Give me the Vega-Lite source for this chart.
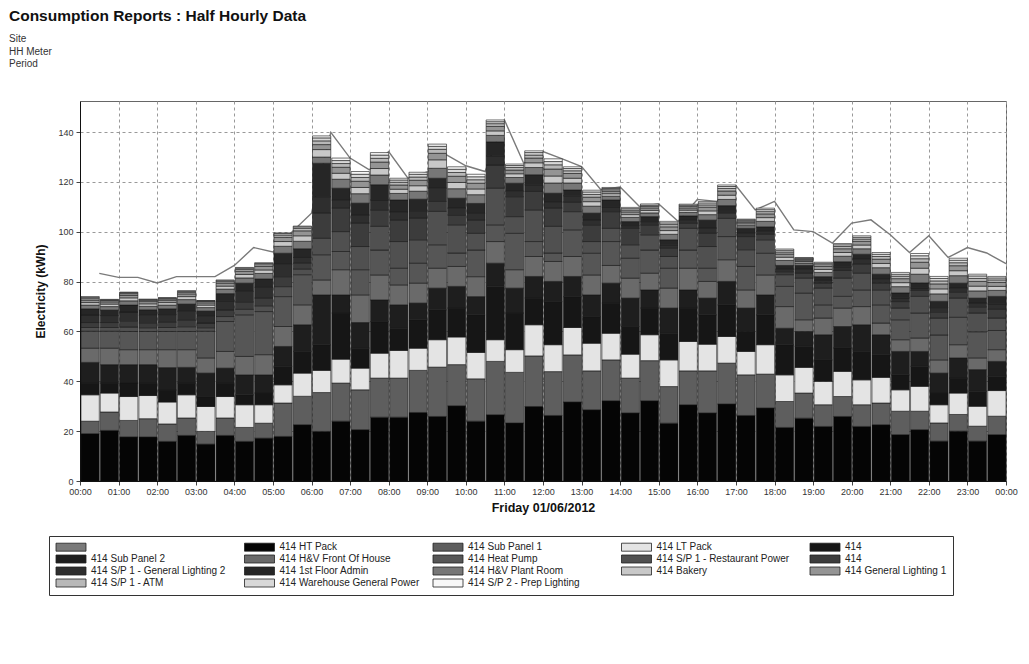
{
  "$schema": "https://vega.github.io/schema/vega-lite/v6.json",
  "padding": {"left": 8, "top": 8, "right": 5, "bottom": 5},
  "width": 926,
  "height": 380,
  "background": "white",
  "config": {
    "font": "Liberation Sans",
    "view": {"stroke": "#666", "strokeWidth": 1}
  },
  "title": {
    "text": "Consumption Reports : Half Hourly Data",
    "subtitle": ["Site", "HH Meter", "Period"],
    "anchor": "start",
    "frame": "bounds",
    "dx": -26,
    "offset": 32,
    "fontSize": 15.5,
    "fontWeight": "bold",
    "color": "#111",
    "subtitleFontSize": 10,
    "subtitleColor": "#333",
    "subtitlePadding": 10,
    "subtitleLineHeight": 12.5
  },
  "layer": [
    {
      "data": {"values": [
      {"t": "2012-06-01 00:30", "v": 83.3}, {"t": "2012-06-01 01:00", "v": 81.7}, {"t": "2012-06-01 01:30", "v": 81.7}, {"t": "2012-06-01 02:00", "v": 79.5},
      {"t": "2012-06-01 02:30", "v": 82}, {"t": "2012-06-01 03:00", "v": 82}, {"t": "2012-06-01 03:30", "v": 82}, {"t": "2012-06-01 04:00", "v": 86.5},
      {"t": "2012-06-01 04:30", "v": 93.7}, {"t": "2012-06-01 05:00", "v": 91.9}, {"t": "2012-06-01 05:30", "v": 100}, {"t": "2012-06-01 06:00", "v": 107.5},
      {"t": "2012-06-01 06:30", "v": 139.9}, {"t": "2012-06-01 07:00", "v": 129.6}, {"t": "2012-06-01 07:30", "v": 124.9}, {"t": "2012-06-01 08:00", "v": 132.2},
      {"t": "2012-06-01 08:30", "v": 121.5}, {"t": "2012-06-01 09:00", "v": 124}, {"t": "2012-06-01 09:30", "v": 130.9}, {"t": "2012-06-01 10:00", "v": 126.5},
      {"t": "2012-06-01 10:30", "v": 124.2}, {"t": "2012-06-01 11:00", "v": 144.9}, {"t": "2012-06-01 11:30", "v": 127.5}, {"t": "2012-06-01 12:00", "v": 132.2},
      {"t": "2012-06-01 12:30", "v": 129.3}, {"t": "2012-06-01 13:00", "v": 126.2}, {"t": "2012-06-01 13:30", "v": 116.9}, {"t": "2012-06-01 14:00", "v": 118},
      {"t": "2012-06-01 14:30", "v": 110.2}, {"t": "2012-06-01 15:00", "v": 111.2}, {"t": "2012-06-01 15:30", "v": 104.2}, {"t": "2012-06-01 16:00", "v": 113},
      {"t": "2012-06-01 16:30", "v": 112.2}, {"t": "2012-06-01 17:00", "v": 118.6}, {"t": "2012-06-01 17:30", "v": 108.8}, {"t": "2012-06-01 18:00", "v": 112.2},
      {"t": "2012-06-01 18:30", "v": 100.8}, {"t": "2012-06-01 19:00", "v": 100.1}, {"t": "2012-06-01 19:30", "v": 95.5}, {"t": "2012-06-01 20:00", "v": 103.5},
      {"t": "2012-06-01 20:30", "v": 104.8}, {"t": "2012-06-01 21:00", "v": 98.8}, {"t": "2012-06-01 21:30", "v": 91.7}, {"t": "2012-06-01 22:00", "v": 98.4},
      {"t": "2012-06-01 22:30", "v": 89.7}, {"t": "2012-06-01 23:00", "v": 93.7}, {"t": "2012-06-01 23:30", "v": 91.5}, {"t": "2012-06-02 00:00", "v": 87.2}
      ]},
      "mark": {"type": "line", "color": "#7a7a7a", "strokeWidth": 1.4},
      "encoding": {
        "x": {"field": "t", "type": "temporal"},
        "y": {"field": "v", "type": "quantitative"}
      }
    },
    {
      "data": {"values": [
      {"t":"2012-06-01 00:00","01 414 HT Pack":19,"02 414 Sub Panel 1":5,"03 414 LT Pack":10.6,"04 414":4.7,"05 414 Sub Panel 2":8.3,"06 414 H&V Front Of House":5.7,"07 414 Heat Pump":6.8,"08 414 S/P 1 - Restaurant Power":1.5,"09 414":2,"10 414 S/P 1 - General Lighting 2":3,"11 414 1st Floor Admin":2.5,"12 414 H&V Plant Room":1.5,"13 414 Bakery":1,"14 414 General Lighting 1":1,"15 414 S/P 1 - ATM":0.6,"16 414 Warehouse General Power":0.5,"17 414 S/P 2 - Prep Lighting":0.3},
      {"t":"2012-06-01 00:30","01 414 HT Pack":20.3,"02 414 Sub Panel 1":7.4,"03 414 LT Pack":7.6,"04 414":4,"05 414 Sub Panel 2":7.4,"06 414 H&V Front Of House":6.6,"07 414 Heat Pump":6.8,"08 414 S/P 1 - Restaurant Power":1.5,"09 414":2,"10 414 S/P 1 - General Lighting 2":2.8,"11 414 1st Floor Admin":2.2,"12 414 H&V Plant Room":1.4,"13 414 Bakery":1,"14 414 General Lighting 1":0.9,"15 414 S/P 1 - ATM":0.5,"16 414 Warehouse General Power":0.3,"17 414 S/P 2 - Prep Lighting":0.2},
      {"t":"2012-06-01 01:00","01 414 HT Pack":17.7,"02 414 Sub Panel 1":6.6,"03 414 LT Pack":9.6,"04 414":5.4,"05 414 Sub Panel 2":7.4,"06 414 H&V Front Of House":6,"07 414 Heat Pump":7.3,"08 414 S/P 1 - Restaurant Power":1.8,"09 414":2.5,"10 414 S/P 1 - General Lighting 2":3.5,"11 414 1st Floor Admin":2.8,"12 414 H&V Plant Room":1.7,"13 414 Bakery":1.2,"14 414 General Lighting 1":1.1,"15 414 S/P 1 - ATM":0.6,"16 414 Warehouse General Power":0.4,"17 414 S/P 2 - Prep Lighting":0.2},
      {"t":"2012-06-01 01:30","01 414 HT Pack":17.7,"02 414 Sub Panel 1":7.3,"03 414 LT Pack":9.3,"04 414":5,"05 414 Sub Panel 2":7.4,"06 414 H&V Front Of House":6,"07 414 Heat Pump":7.3,"08 414 S/P 1 - Restaurant Power":1.5,"09 414":2,"10 414 S/P 1 - General Lighting 2":3,"11 414 1st Floor Admin":2.2,"12 414 H&V Plant Room":1.4,"13 414 Bakery":1,"14 414 General Lighting 1":0.9,"15 414 S/P 1 - ATM":0.5,"16 414 Warehouse General Power":0.3,"17 414 S/P 2 - Prep Lighting":0.2},
      {"t":"2012-06-01 02:00","01 414 HT Pack":15.9,"02 414 Sub Panel 1":7,"03 414 LT Pack":8.8,"04 414":4.8,"05 414 Sub Panel 2":9,"06 414 H&V Front Of House":7.2,"07 414 Heat Pump":7.3,"08 414 S/P 1 - Restaurant Power":1.6,"09 414":2.1,"10 414 S/P 1 - General Lighting 2":3.1,"11 414 1st Floor Admin":2.3,"12 414 H&V Plant Room":1.5,"13 414 Bakery":1,"14 414 General Lighting 1":1,"15 414 S/P 1 - ATM":0.5,"16 414 Warehouse General Power":0.3,"17 414 S/P 2 - Prep Lighting":0.2},
      {"t":"2012-06-01 02:30","01 414 HT Pack":18.3,"02 414 Sub Panel 1":7,"03 414 LT Pack":9.3,"04 414":4.7,"05 414 Sub Panel 2":6.3,"06 414 H&V Front Of House":7.1,"07 414 Heat Pump":7.3,"08 414 S/P 1 - Restaurant Power":1.9,"09 414":2.6,"10 414 S/P 1 - General Lighting 2":3.6,"11 414 1st Floor Admin":2.9,"12 414 H&V Plant Room":1.8,"13 414 Bakery":1.2,"14 414 General Lighting 1":1.1,"15 414 S/P 1 - ATM":0.6,"16 414 Warehouse General Power":0.4,"17 414 S/P 2 - Prep Lighting":0.3},
      {"t":"2012-06-01 03:00","01 414 HT Pack":14.8,"02 414 Sub Panel 1":5.1,"03 414 LT Pack":10,"04 414":4,"05 414 Sub Panel 2":9.4,"06 414 H&V Front Of House":6.1,"07 414 Heat Pump":10.7,"08 414 S/P 1 - Restaurant Power":1.4,"09 414":1.9,"10 414 S/P 1 - General Lighting 2":2.7,"11 414 1st Floor Admin":2.1,"12 414 H&V Plant Room":1.4,"13 414 Bakery":1,"14 414 General Lighting 1":0.9,"15 414 S/P 1 - ATM":0.5,"16 414 Warehouse General Power":0.3,"17 414 S/P 2 - Prep Lighting":0.1},
      {"t":"2012-06-01 03:30","01 414 HT Pack":18.3,"02 414 Sub Panel 1":7,"03 414 LT Pack":8.6,"04 414":5.4,"05 414 Sub Panel 2":6,"06 414 H&V Front Of House":6.7,"07 414 Heat Pump":12,"08 414 S/P 1 - Restaurant Power":2,"09 414":2.6,"10 414 S/P 1 - General Lighting 2":3.7,"11 414 1st Floor Admin":2.9,"12 414 H&V Plant Room":1.8,"13 414 Bakery":1.2,"14 414 General Lighting 1":1.2,"15 414 S/P 1 - ATM":0.6,"16 414 Warehouse General Power":0.4,"17 414 S/P 2 - Prep Lighting":0.3},
      {"t":"2012-06-01 04:00","01 414 HT Pack":15.9,"02 414 Sub Panel 1":5.6,"03 414 LT Pack":9.1,"04 414":4,"05 414 Sub Panel 2":8,"06 414 H&V Front Of House":7.4,"07 414 Heat Pump":16.7,"08 414 S/P 1 - Restaurant Power":2.2,"09 414":3,"10 414 S/P 1 - General Lighting 2":4.2,"11 414 1st Floor Admin":3.3,"12 414 H&V Plant Room":2.1,"13 414 Bakery":1.4,"14 414 General Lighting 1":1.3,"15 414 S/P 1 - ATM":0.7,"16 414 Warehouse General Power":0.5,"17 414 S/P 2 - Prep Lighting":0.3},
      {"t":"2012-06-01 04:30","01 414 HT Pack":17.2,"02 414 Sub Panel 1":6,"03 414 LT Pack":7.4,"04 414":4.7,"05 414 Sub Panel 2":7.3,"06 414 H&V Front Of House":8.1,"07 414 Heat Pump":17.3,"08 414 S/P 1 - Restaurant Power":2.3,"09 414":3.1,"10 414 S/P 1 - General Lighting 2":4.3,"11 414 1st Floor Admin":3.4,"12 414 H&V Plant Room":2.2,"13 414 Bakery":1.4,"14 414 General Lighting 1":1.4,"15 414 S/P 1 - ATM":0.7,"16 414 Warehouse General Power":0.5,"17 414 S/P 2 - Prep Lighting":0.3},
      {"t":"2012-06-01 05:00","01 414 HT Pack":17.9,"02 414 Sub Panel 1":13.4,"03 414 LT Pack":7.3,"04 414":7.4,"05 414 Sub Panel 2":8,"06 414 H&V Front Of House":8,"07 414 Heat Pump":12,"08 414 S/P 1 - Restaurant Power":4,"09 414":4,"10 414 S/P 1 - General Lighting 2":5,"11 414 1st Floor Admin":4.4,"12 414 H&V Plant Room":2.8,"13 414 Bakery":1.9,"14 414 General Lighting 1":1.7,"15 414 S/P 1 - ATM":0.9,"16 414 Warehouse General Power":0.6,"17 414 S/P 2 - Prep Lighting":0.3},
      {"t":"2012-06-01 05:30","01 414 HT Pack":22.6,"02 414 Sub Panel 1":11.4,"03 414 LT Pack":9.3,"04 414":8.7,"05 414 Sub Panel 2":10.7,"06 414 H&V Front Of House":8,"07 414 Heat Pump":12.1,"08 414 S/P 1 - Restaurant Power":2.3,"09 414":2.3,"10 414 S/P 1 - General Lighting 2":2.3,"11 414 1st Floor Admin":3.5,"12 414 H&V Plant Room":3,"13 414 Bakery":2.2,"14 414 General Lighting 1":2,"15 414 S/P 1 - ATM":1,"16 414 Warehouse General Power":0.6,"17 414 S/P 2 - Prep Lighting":0.3},
      {"t":"2012-06-01 06:00","01 414 HT Pack":19.9,"02 414 Sub Panel 1":15.6,"03 414 LT Pack":8.9,"04 414":10.3,"05 414 Sub Panel 2":20,"06 414 H&V Front Of House":6,"07 414 Heat Pump":10.1,"08 414 S/P 1 - Restaurant Power":6.6,"09 414":10.1,"10 414 S/P 1 - General Lighting 2":6.6,"11 414 1st Floor Admin":13.4,"12 414 H&V Plant Room":2.5,"13 414 Bakery":3,"14 414 General Lighting 1":2,"15 414 S/P 1 - ATM":1.5,"16 414 Warehouse General Power":1.2,"17 414 S/P 2 - Prep Lighting":0.8},
      {"t":"2012-06-01 06:30","01 414 HT Pack":24,"02 414 Sub Panel 1":15.3,"03 414 LT Pack":9.6,"04 414":18.5,"05 414 Sub Panel 2":7.3,"06 414 H&V Front Of House":10.1,"07 414 Heat Pump":7.3,"08 414 S/P 1 - Restaurant Power":8,"09 414":9.4,"10 414 S/P 1 - General Lighting 2":3.2,"11 414 1st Floor Admin":4.8,"12 414 H&V Plant Room":3.6,"13 414 Bakery":2.4,"14 414 General Lighting 1":2.4,"15 414 S/P 1 - ATM":1.5,"16 414 Warehouse General Power":1.2,"17 414 S/P 2 - Prep Lighting":1},
      {"t":"2012-06-01 07:00","01 414 HT Pack":20.6,"02 414 Sub Panel 1":16,"03 414 LT Pack":8.7,"04 414":8,"05 414 Sub Panel 2":10.3,"06 414 H&V Front Of House":11.1,"07 414 Heat Pump":10.1,"08 414 S/P 1 - Restaurant Power":9.3,"09 414":9.4,"10 414 S/P 1 - General Lighting 2":3.2,"11 414 1st Floor Admin":4.8,"12 414 H&V Plant Room":3.8,"13 414 Bakery":2.5,"14 414 General Lighting 1":2.5,"15 414 S/P 1 - ATM":1.5,"16 414 Warehouse General Power":1.3,"17 414 S/P 2 - Prep Lighting":1.1},
      {"t":"2012-06-01 07:30","01 414 HT Pack":25.6,"02 414 Sub Panel 1":15.7,"03 414 LT Pack":10,"04 414":12.7,"05 414 Sub Panel 2":8.7,"06 414 H&V Front Of House":10,"07 414 Heat Pump":10,"08 414 S/P 1 - Restaurant Power":9.5,"09 414":6.6,"10 414 S/P 1 - General Lighting 2":4,"11 414 1st Floor Admin":6.1,"12 414 H&V Plant Room":3.9,"13 414 Bakery":2.6,"14 414 General Lighting 1":2.6,"15 414 S/P 1 - ATM":1.5,"16 414 Warehouse General Power":1.3,"17 414 S/P 2 - Prep Lighting":1},
      {"t":"2012-06-01 08:00","01 414 HT Pack":25.6,"02 414 Sub Panel 1":15.7,"03 414 LT Pack":11.1,"04 414":8.9,"05 414 Sub Panel 2":9.4,"06 414 H&V Front Of House":8,"07 414 Heat Pump":6.7,"08 414 S/P 1 - Restaurant Power":10.7,"09 414":8.6,"10 414 S/P 1 - General Lighting 2":3.2,"11 414 1st Floor Admin":4.9,"12 414 H&V Plant Room":2.6,"13 414 Bakery":1.7,"14 414 General Lighting 1":1.7,"15 414 S/P 1 - ATM":1.1,"16 414 Warehouse General Power":0.9,"17 414 S/P 2 - Prep Lighting":0.7},
      {"t":"2012-06-01 08:30","01 414 HT Pack":27.5,"02 414 Sub Panel 1":16.9,"03 414 LT Pack":8.9,"04 414":11.4,"05 414 Sub Panel 2":6.7,"06 414 H&V Front Of House":8,"07 414 Heat Pump":8,"08 414 S/P 1 - Restaurant Power":9.4,"09 414":8.7,"10 414 S/P 1 - General Lighting 2":3,"11 414 1st Floor Admin":4.6,"12 414 H&V Plant Room":3.2,"13 414 Bakery":2.2,"14 414 General Lighting 1":2.2,"15 414 S/P 1 - ATM":1.3,"16 414 Warehouse General Power":1.1,"17 414 S/P 2 - Prep Lighting":0.8},
      {"t":"2012-06-01 09:00","01 414 HT Pack":25.9,"02 414 Sub Panel 1":19.8,"03 414 LT Pack":11,"04 414":12,"05 414 Sub Panel 2":8.7,"06 414 H&V Front Of House":8,"07 414 Heat Pump":9.4,"08 414 S/P 1 - Restaurant Power":13.4,"09 414":4,"10 414 S/P 1 - General Lighting 2":5.3,"11 414 1st Floor Admin":4,"12 414 H&V Plant Room":4,"13 414 Bakery":3.4,"14 414 General Lighting 1":2.6,"15 414 S/P 1 - ATM":1.6,"16 414 Warehouse General Power":1.2,"17 414 S/P 2 - Prep Lighting":0.9},
      {"t":"2012-06-01 09:30","01 414 HT Pack":30.2,"02 414 Sub Panel 1":16.5,"03 414 LT Pack":11.1,"04 414":11.6,"05 414 Sub Panel 2":8.7,"06 414 H&V Front Of House":8,"07 414 Heat Pump":5.4,"08 414 S/P 1 - Restaurant Power":11.3,"09 414":4,"10 414 S/P 1 - General Lighting 2":2.7,"11 414 1st Floor Admin":4,"12 414 H&V Plant Room":3.8,"13 414 Bakery":2.5,"14 414 General Lighting 1":2.5,"15 414 S/P 1 - ATM":1.5,"16 414 Warehouse General Power":1.3,"17 414 S/P 2 - Prep Lighting":1},
      {"t":"2012-06-01 10:00","01 414 HT Pack":24,"02 414 Sub Panel 1":17,"03 414 LT Pack":10.6,"04 414":15.1,"05 414 Sub Panel 2":7.3,"06 414 H&V Front Of House":8,"07 414 Heat Pump":10.7,"08 414 S/P 1 - Restaurant Power":6.7,"09 414":5.3,"10 414 S/P 1 - General Lighting 2":2.7,"11 414 1st Floor Admin":4,"12 414 H&V Plant Room":3.5,"13 414 Bakery":2.3,"14 414 General Lighting 1":2.3,"15 414 S/P 1 - ATM":1.4,"16 414 Warehouse General Power":1.2,"17 414 S/P 2 - Prep Lighting":1},
      {"t":"2012-06-01 10:30","01 414 HT Pack":26.6,"02 414 Sub Panel 1":21.4,"03 414 LT Pack":8.7,"04 414":21.4,"05 414 Sub Panel 2":9.3,"06 414 H&V Front Of House":8.7,"07 414 Heat Pump":6.7,"08 414 S/P 1 - Restaurant Power":14.7,"09 414":9.3,"10 414 S/P 1 - General Lighting 2":3.7,"11 414 1st Floor Admin":5.6,"12 414 H&V Plant Room":2.6,"13 414 Bakery":1.8,"14 414 General Lighting 1":1.8,"15 414 S/P 1 - ATM":1.1,"16 414 Warehouse General Power":0.8,"17 414 S/P 2 - Prep Lighting":0.7},
      {"t":"2012-06-01 11:00","01 414 HT Pack":23.3,"02 414 Sub Panel 1":20.3,"03 414 LT Pack":9.1,"04 414":14.7,"05 414 Sub Panel 2":10,"06 414 H&V Front Of House":7.4,"07 414 Heat Pump":14.6,"08 414 S/P 1 - Restaurant Power":6.7,"09 414":8,"10 414 S/P 1 - General Lighting 2":2.2,"11 414 1st Floor Admin":3.2,"12 414 H&V Plant Room":2.3,"13 414 Bakery":1.5,"14 414 General Lighting 1":1.5,"15 414 S/P 1 - ATM":1,"16 414 Warehouse General Power":0.8,"17 414 S/P 2 - Prep Lighting":0.6},
      {"t":"2012-06-01 11:30","01 414 HT Pack":29.9,"02 414 Sub Panel 1":20.3,"03 414 LT Pack":12.5,"04 414":10.7,"05 414 Sub Panel 2":8.7,"06 414 H&V Front Of House":8,"07 414 Heat Pump":6,"08 414 S/P 1 - Restaurant Power":12.7,"09 414":7.4,"10 414 S/P 1 - General Lighting 2":2.7,"11 414 1st Floor Admin":4,"12 414 H&V Plant Room":2.9,"13 414 Bakery":1.9,"14 414 General Lighting 1":1.9,"15 414 S/P 1 - ATM":1.2,"16 414 Warehouse General Power":1,"17 414 S/P 2 - Prep Lighting":0.7},
      {"t":"2012-06-01 12:00","01 414 HT Pack":26.3,"02 414 Sub Panel 1":17.6,"03 414 LT Pack":10.8,"04 414":17.3,"05 414 Sub Panel 2":8.1,"06 414 H&V Front Of House":8,"07 414 Heat Pump":3.4,"08 414 S/P 1 - Restaurant Power":10.7,"09 414":7.3,"10 414 S/P 1 - General Lighting 2":2.4,"11 414 1st Floor Admin":3.6,"12 414 H&V Plant Room":4.1,"13 414 Bakery":2.8,"14 414 General Lighting 1":2.8,"15 414 S/P 1 - ATM":1.7,"16 414 Warehouse General Power":1.3,"17 414 S/P 2 - Prep Lighting":1.1},
      {"t":"2012-06-01 12:30","01 414 HT Pack":31.7,"02 414 Sub Panel 1":18.9,"03 414 LT Pack":11,"04 414":12.4,"05 414 Sub Panel 2":8.1,"06 414 H&V Front Of House":8,"07 414 Heat Pump":10.7,"08 414 S/P 1 - Restaurant Power":7.3,"09 414":3.9,"10 414 S/P 1 - General Lighting 2":2.5,"11 414 1st Floor Admin":2.3,"12 414 H&V Plant Room":2.8,"13 414 Bakery":1.9,"14 414 General Lighting 1":1.9,"15 414 S/P 1 - ATM":1.1,"16 414 Warehouse General Power":0.9,"17 414 S/P 2 - Prep Lighting":0.7},
      {"t":"2012-06-01 13:00","01 414 HT Pack":28.6,"02 414 Sub Panel 1":15.6,"03 414 LT Pack":11.1,"04 414":10.7,"05 414 Sub Panel 2":8.7,"06 414 H&V Front Of House":8,"07 414 Heat Pump":8.7,"08 414 S/P 1 - Restaurant Power":4.7,"09 414":6.7,"10 414 S/P 1 - General Lighting 2":1.9,"11 414 1st Floor Admin":2.8,"12 414 H&V Plant Room":2.8,"13 414 Bakery":1.8,"14 414 General Lighting 1":1.8,"15 414 S/P 1 - ATM":1.1,"16 414 Warehouse General Power":1,"17 414 S/P 2 - Prep Lighting":0.7},
      {"t":"2012-06-01 13:30","01 414 HT Pack":32.2,"02 414 Sub Panel 1":16.4,"03 414 LT Pack":10.7,"04 414":12.1,"05 414 Sub Panel 2":8,"06 414 H&V Front Of House":7.1,"07 414 Heat Pump":9.6,"08 414 S/P 1 - Restaurant Power":5.3,"09 414":6.7,"10 414 S/P 1 - General Lighting 2":1.9,"11 414 1st Floor Admin":2.8,"12 414 H&V Plant Room":1.5,"13 414 Bakery":1,"14 414 General Lighting 1":1,"15 414 S/P 1 - ATM":0.6,"16 414 Warehouse General Power":0.5,"17 414 S/P 2 - Prep Lighting":0.4},
      {"t":"2012-06-01 14:00","01 414 HT Pack":27.3,"02 414 Sub Panel 1":14,"03 414 LT Pack":9.6,"04 414":11.1,"05 414 Sub Panel 2":11.4,"06 414 H&V Front Of House":8,"07 414 Heat Pump":8,"08 414 S/P 1 - Restaurant Power":5.4,"09 414":6.6,"10 414 S/P 1 - General Lighting 2":1.1,"11 414 1st Floor Admin":1.6,"12 414 H&V Plant Room":1.7,"13 414 Bakery":1.1,"14 414 General Lighting 1":1.1,"15 414 S/P 1 - ATM":0.7,"16 414 Warehouse General Power":0.6,"17 414 S/P 2 - Prep Lighting":0.5},
      {"t":"2012-06-01 14:30","01 414 HT Pack":32.2,"02 414 Sub Panel 1":16.1,"03 414 LT Pack":10.4,"04 414":10.7,"05 414 Sub Panel 2":7.3,"06 414 H&V Front Of House":6.7,"07 414 Heat Pump":9.3,"08 414 S/P 1 - Restaurant Power":6.1,"09 414":4,"10 414 S/P 1 - General Lighting 2":1.3,"11 414 1st Floor Admin":2,"12 414 H&V Plant Room":1.5,"13 414 Bakery":1,"14 414 General Lighting 1":1,"15 414 S/P 1 - ATM":0.6,"16 414 Warehouse General Power":0.5,"17 414 S/P 2 - Prep Lighting":0.5},
      {"t":"2012-06-01 15:00","01 414 HT Pack":23.2,"02 414 Sub Panel 1":14.7,"03 414 LT Pack":10.7,"04 414":10.7,"05 414 Sub Panel 2":10.1,"06 414 H&V Front Of House":8,"07 414 Heat Pump":8,"08 414 S/P 1 - Restaurant Power":4.7,"09 414":3.3,"10 414 S/P 1 - General Lighting 2":1.4,"11 414 1st Floor Admin":2,"12 414 H&V Plant Room":2.2,"13 414 Bakery":1.5,"14 414 General Lighting 1":1.5,"15 414 S/P 1 - ATM":0.9,"16 414 Warehouse General Power":0.7,"17 414 S/P 2 - Prep Lighting":0.6},
      {"t":"2012-06-01 15:30","01 414 HT Pack":30.6,"02 414 Sub Panel 1":13.6,"03 414 LT Pack":11.8,"04 414":13.4,"05 414 Sub Panel 2":7.3,"06 414 H&V Front Of House":8.7,"07 414 Heat Pump":7.3,"08 414 S/P 1 - Restaurant Power":8.7,"09 414":2,"10 414 S/P 1 - General Lighting 2":1.2,"11 414 1st Floor Admin":1.8,"12 414 H&V Plant Room":1.4,"13 414 Bakery":0.9,"14 414 General Lighting 1":0.9,"15 414 S/P 1 - ATM":0.6,"16 414 Warehouse General Power":0.5,"17 414 S/P 2 - Prep Lighting":0.4},
      {"t":"2012-06-01 16:00","01 414 HT Pack":27.3,"02 414 Sub Panel 1":16.9,"03 414 LT Pack":10.7,"04 414":11.8,"05 414 Sub Panel 2":6.7,"06 414 H&V Front Of House":6.7,"07 414 Heat Pump":5.3,"08 414 S/P 1 - Restaurant Power":8.7,"09 414":5.3,"10 414 S/P 1 - General Lighting 2":2.1,"11 414 1st Floor Admin":3.2,"12 414 H&V Plant Room":2.2,"13 414 Bakery":1.5,"14 414 General Lighting 1":1.5,"15 414 S/P 1 - ATM":0.9,"16 414 Warehouse General Power":0.8,"17 414 S/P 2 - Prep Lighting":0.6},
      {"t":"2012-06-01 16:30","01 414 HT Pack":30.9,"02 414 Sub Panel 1":16.4,"03 414 LT Pack":10.7,"04 414":12.7,"05 414 Sub Panel 2":9.4,"06 414 H&V Front Of House":8.7,"07 414 Heat Pump":9.3,"08 414 S/P 1 - Restaurant Power":7.3,"09 414":2.1,"10 414 S/P 1 - General Lighting 2":1,"11 414 1st Floor Admin":2,"12 414 H&V Plant Room":2.5,"13 414 Bakery":1.7,"14 414 General Lighting 1":1.7,"15 414 S/P 1 - ATM":1,"16 414 Warehouse General Power":0.8,"17 414 S/P 2 - Prep Lighting":0.6},
      {"t":"2012-06-01 17:00","01 414 HT Pack":26.3,"02 414 Sub Panel 1":16.3,"03 414 LT Pack":9.4,"04 414":8,"05 414 Sub Panel 2":9.4,"06 414 H&V Front Of House":7.3,"07 414 Heat Pump":9.4,"08 414 S/P 1 - Restaurant Power":6.7,"09 414":5.3,"10 414 S/P 1 - General Lighting 2":1.3,"11 414 1st Floor Admin":2,"12 414 H&V Plant Room":1.1,"13 414 Bakery":0.7,"14 414 General Lighting 1":0.7,"15 414 S/P 1 - ATM":0.5,"16 414 Warehouse General Power":0.4,"17 414 S/P 2 - Prep Lighting":0.3},
      {"t":"2012-06-01 17:30","01 414 HT Pack":29.3,"02 414 Sub Panel 1":13.6,"03 414 LT Pack":11.8,"04 414":12,"05 414 Sub Panel 2":8,"06 414 H&V Front Of House":8,"07 414 Heat Pump":8.7,"08 414 S/P 1 - Restaurant Power":5.4,"09 414":2.2,"10 414 S/P 1 - General Lighting 2":1.2,"11 414 1st Floor Admin":1.8,"12 414 H&V Plant Room":2.2,"13 414 Bakery":1.5,"14 414 General Lighting 1":1.5,"15 414 S/P 1 - ATM":0.9,"16 414 Warehouse General Power":0.8,"17 414 S/P 2 - Prep Lighting":0.6},
      {"t":"2012-06-01 18:00","01 414 HT Pack":21.5,"02 414 Sub Panel 1":10.4,"03 414 LT Pack":10.7,"04 414":12.1,"05 414 Sub Panel 2":6.6,"06 414 H&V Front Of House":8.7,"07 414 Heat Pump":8.1,"08 414 S/P 1 - Restaurant Power":4.7,"09 414":1.2,"10 414 S/P 1 - General Lighting 2":1,"11 414 1st Floor Admin":1.5,"12 414 H&V Plant Room":2,"13 414 Bakery":1.3,"14 414 General Lighting 1":1.3,"15 414 S/P 1 - ATM":0.8,"16 414 Warehouse General Power":0.7,"17 414 S/P 2 - Prep Lighting":0.5},
      {"t":"2012-06-01 18:30","01 414 HT Pack":25.2,"02 414 Sub Panel 1":10.1,"03 414 LT Pack":10.3,"04 414":8.4,"05 414 Sub Panel 2":6,"06 414 H&V Front Of House":4.7,"07 414 Heat Pump":10.7,"08 414 S/P 1 - Restaurant Power":6,"09 414":2.1,"10 414 S/P 1 - General Lighting 2":1.5,"11 414 1st Floor Admin":1.5,"12 414 H&V Plant Room":1,"13 414 Bakery":0.6,"14 414 General Lighting 1":0.6,"15 414 S/P 1 - ATM":0.4,"16 414 Warehouse General Power":0.3,"17 414 S/P 2 - Prep Lighting":0.3},
      {"t":"2012-06-01 19:00","01 414 HT Pack":21.9,"02 414 Sub Panel 1":8.7,"03 414 LT Pack":9.4,"04 414":8.6,"05 414 Sub Panel 2":10.1,"06 414 H&V Front Of House":6.7,"07 414 Heat Pump":5.3,"08 414 S/P 1 - Restaurant Power":6.7,"09 414":2.1,"10 414 S/P 1 - General Lighting 2":1,"11 414 1st Floor Admin":1.5,"12 414 H&V Plant Room":1.7,"13 414 Bakery":1.2,"14 414 General Lighting 1":1.2,"15 414 S/P 1 - ATM":0.7,"16 414 Warehouse General Power":0.6,"17 414 S/P 2 - Prep Lighting":0.4},
      {"t":"2012-06-01 19:30","01 414 HT Pack":25.9,"02 414 Sub Panel 1":8,"03 414 LT Pack":10.1,"04 414":9.4,"05 414 Sub Panel 2":8.6,"06 414 H&V Front Of House":7.4,"07 414 Heat Pump":4.7,"08 414 S/P 1 - Restaurant Power":7.3,"09 414":3.1,"10 414 S/P 1 - General Lighting 2":1.5,"11 414 1st Floor Admin":2,"12 414 H&V Plant Room":2.2,"13 414 Bakery":1.5,"14 414 General Lighting 1":1.5,"15 414 S/P 1 - ATM":0.9,"16 414 Warehouse General Power":0.7,"17 414 S/P 2 - Prep Lighting":0.5},
      {"t":"2012-06-01 20:00","01 414 HT Pack":21.9,"02 414 Sub Panel 1":8.7,"03 414 LT Pack":10,"04 414":11.4,"05 414 Sub Panel 2":10.7,"06 414 H&V Front Of House":7.3,"07 414 Heat Pump":6.7,"08 414 S/P 1 - Restaurant Power":6.7,"09 414":3.6,"10 414 S/P 1 - General Lighting 2":2,"11 414 1st Floor Admin":2,"12 414 H&V Plant Room":2.2,"13 414 Bakery":1.5,"14 414 General Lighting 1":1.5,"15 414 S/P 1 - ATM":0.9,"16 414 Warehouse General Power":0.7,"17 414 S/P 2 - Prep Lighting":0.6},
      {"t":"2012-06-01 20:30","01 414 HT Pack":22.6,"02 414 Sub Panel 1":8.7,"03 414 LT Pack":10.3,"04 414":9.1,"05 414 Sub Panel 2":8,"06 414 H&V Front Of House":4.7,"07 414 Heat Pump":7.3,"08 414 S/P 1 - Restaurant Power":6,"09 414":2.8,"10 414 S/P 1 - General Lighting 2":1.5,"11 414 1st Floor Admin":2,"12 414 H&V Plant Room":2.6,"13 414 Bakery":1.7,"14 414 General Lighting 1":1.7,"15 414 S/P 1 - ATM":1.1,"16 414 Warehouse General Power":0.9,"17 414 S/P 2 - Prep Lighting":0.7},
      {"t":"2012-06-01 21:00","01 414 HT Pack":18.6,"02 414 Sub Panel 1":9.4,"03 414 LT Pack":8.6,"04 414":6,"05 414 Sub Panel 2":9.4,"06 414 H&V Front Of House":4.7,"07 414 Heat Pump":8,"08 414 S/P 1 - Restaurant Power":4.7,"09 414":2.6,"10 414 S/P 1 - General Lighting 2":1.5,"11 414 1st Floor Admin":2,"12 414 H&V Plant Room":2.5,"13 414 Bakery":1.6,"14 414 General Lighting 1":1.6,"15 414 S/P 1 - ATM":1,"16 414 Warehouse General Power":0.8,"17 414 S/P 2 - Prep Lighting":0.7},
      {"t":"2012-06-01 21:30","01 414 HT Pack":20.6,"02 414 Sub Panel 1":7.4,"03 414 LT Pack":10,"04 414":8,"05 414 Sub Panel 2":6,"06 414 H&V Front Of House":5.4,"07 414 Heat Pump":10,"08 414 S/P 1 - Restaurant Power":6.7,"09 414":2.4,"10 414 S/P 1 - General Lighting 2":1,"11 414 1st Floor Admin":2,"12 414 H&V Plant Room":3.5,"13 414 Bakery":2.4,"14 414 General Lighting 1":2.4,"15 414 S/P 1 - ATM":1.4,"16 414 Warehouse General Power":1.2,"17 414 S/P 2 - Prep Lighting":0.9},
      {"t":"2012-06-01 22:00","01 414 HT Pack":16,"02 414 Sub Panel 1":7.3,"03 414 LT Pack":7.3,"04 414":4.7,"05 414 Sub Panel 2":8,"06 414 H&V Front Of House":5.3,"07 414 Heat Pump":10,"08 414 S/P 1 - Restaurant Power":6.8,"09 414":2.5,"10 414 S/P 1 - General Lighting 2":1.7,"11 414 1st Floor Admin":2.5,"12 414 H&V Plant Room":3,"13 414 Bakery":2,"14 414 General Lighting 1":2,"15 414 S/P 1 - ATM":1.2,"16 414 Warehouse General Power":1,"17 414 S/P 2 - Prep Lighting":0.8},
      {"t":"2012-06-01 22:30","01 414 HT Pack":20,"02 414 Sub Panel 1":6.7,"03 414 LT Pack":8.6,"04 414":6,"05 414 Sub Panel 2":8.1,"06 414 H&V Front Of House":5.3,"07 414 Heat Pump":11,"08 414 S/P 1 - Restaurant Power":7.7,"09 414":2.5,"10 414 S/P 1 - General Lighting 2":1.5,"11 414 1st Floor Admin":2,"12 414 H&V Plant Room":3,"13 414 Bakery":2,"14 414 General Lighting 1":2,"15 414 S/P 1 - ATM":1.2,"16 414 Warehouse General Power":1,"17 414 S/P 2 - Prep Lighting":0.8},
      {"t":"2012-06-01 23:00","01 414 HT Pack":16,"02 414 Sub Panel 1":6,"03 414 LT Pack":8,"04 414":6,"05 414 Sub Panel 2":8.7,"06 414 H&V Front Of House":4.7,"07 414 Heat Pump":10.5,"08 414 S/P 1 - Restaurant Power":7.5,"09 414":2.5,"10 414 S/P 1 - General Lighting 2":1.5,"11 414 1st Floor Admin":2,"12 414 H&V Plant Room":2.9,"13 414 Bakery":1.9,"14 414 General Lighting 1":1.9,"15 414 S/P 1 - ATM":1.2,"16 414 Warehouse General Power":1,"17 414 S/P 2 - Prep Lighting":0.7},
      {"t":"2012-06-01 23:30","01 414 HT Pack":18.6,"02 414 Sub Panel 1":7.4,"03 414 LT Pack":10.3,"04 414":5.7,"05 414 Sub Panel 2":6,"06 414 H&V Front Of House":4.7,"07 414 Heat Pump":7.7,"08 414 S/P 1 - Restaurant Power":5,"09 414":3.5,"10 414 S/P 1 - General Lighting 2":2.2,"11 414 1st Floor Admin":3,"12 414 H&V Plant Room":2.4,"13 414 Bakery":1.6,"14 414 General Lighting 1":1.6,"15 414 S/P 1 - ATM":1,"16 414 Warehouse General Power":0.8,"17 414 S/P 2 - Prep Lighting":0.6}
      ]},
      "transform": [
        {"fold": ["01 414 HT Pack", "02 414 Sub Panel 1", "03 414 LT Pack", "04 414", "05 414 Sub Panel 2", "06 414 H&V Front Of House", "07 414 Heat Pump", "08 414 S/P 1 - Restaurant Power", "09 414", "10 414 S/P 1 - General Lighting 2", "11 414 1st Floor Admin", "12 414 H&V Plant Room", "13 414 Bakery", "14 414 General Lighting 1", "15 414 S/P 1 - ATM", "16 414 Warehouse General Power", "17 414 S/P 2 - Prep Lighting"], "as": ["k", "v"]}
      ],
      "mark": {"type": "bar", "stroke": "#151515", "strokeWidth": 0.6, "timeUnitBandSize": 0.92},
      "encoding": {
        "x": {
          "field": "t", "type": "temporal",
          "timeUnit": {"unit": "yearmonthdatehoursminutes", "step": 30},
          "scale": {"domain": [{"year": 2012, "month": 6, "date": 1, "hours": 0}, {"year": 2012, "month": 6, "date": 2, "hours": 0}], "nice": false},
          "axis": {
            "format": "%H:%M", "labelFlush": false,
            "title": "Friday 01/06/2012", "titleFontSize": 12.5, "titleFontWeight": "bold", "titleColor": "#111", "titlePadding": 5,
            "labelFontSize": 9, "labelColor": "#333", "labelPadding": 2,
            "tickSize": 4, "tickColor": "#444", "domainColor": "#111",
            "gridDash": [3, 3], "gridColor": "#999"
          }
        },
        "y": {
          "field": "v", "type": "quantitative", "stack": "zero",
          "scale": {"domain": [0, 152.5], "nice": false},
          "axis": {
            "values": [0, 10, 20, 30, 40, 50, 60, 70, 80, 90, 100, 110, 120, 130, 140, 150],
            "title": "Electricity (kWh)", "titleFontSize": 12, "titleFontWeight": "bold", "titleColor": "#111", "titlePadding": 10,
            "labelFontSize": 9, "labelColor": "#333", "labelPadding": 3,
            "tickSize": 4, "tickColor": "#444", "domainColor": "#111",
            "gridDash": [3, 3], "gridColor": "#999"
          }
        },
        "order": {"field": "k", "sort": "ascending"},
        "color": {
          "field": "k", "type": "nominal",
          "scale": {
            "domain": ["00", "01 414 HT Pack", "02 414 Sub Panel 1", "03 414 LT Pack", "04 414", "05 414 Sub Panel 2", "06 414 H&V Front Of House", "07 414 Heat Pump", "08 414 S/P 1 - Restaurant Power", "09 414", "10 414 S/P 1 - General Lighting 2", "11 414 1st Floor Admin", "12 414 H&V Plant Room", "13 414 Bakery", "14 414 General Lighting 1", "15 414 S/P 1 - ATM", "16 414 Warehouse General Power", "17 414 S/P 2 - Prep Lighting"],
            "range": ["#7a7a7a", "#050505", "#5e5e5e", "#e4e4e4", "#161616", "#1e1e1e", "#6a6a6a", "#565656", "#505050", "#3c3c3c", "#2e2e2e", "#262626", "#777777", "#c8c8c8", "#949494", "#b8b8b8", "#d8d8d8", "#f8f8f8"]
          },
          "legend": {
            "orient": "none", "legendX": -31, "legendY": 435, "direction": "horizontal",
            "columns": 5, "gridAlign": "all", "title": null,
            "labelExpr": "slice(datum.label, 3)",
            "labelFontSize": 10, "labelColor": "#222", "labelLimit": 220,
            "symbolType": "M-1,-1H6.5V1H-1Z", "symbolSize": 64, "labelOffset": 26,
            "symbolStrokeColor": "#222", "symbolStrokeWidth": 0.8,
            "columnPadding": 11.5, "rowPadding": 0,
            "strokeColor": "#333", "padding": 6
          }
        }
      }
    }
  ]
}
